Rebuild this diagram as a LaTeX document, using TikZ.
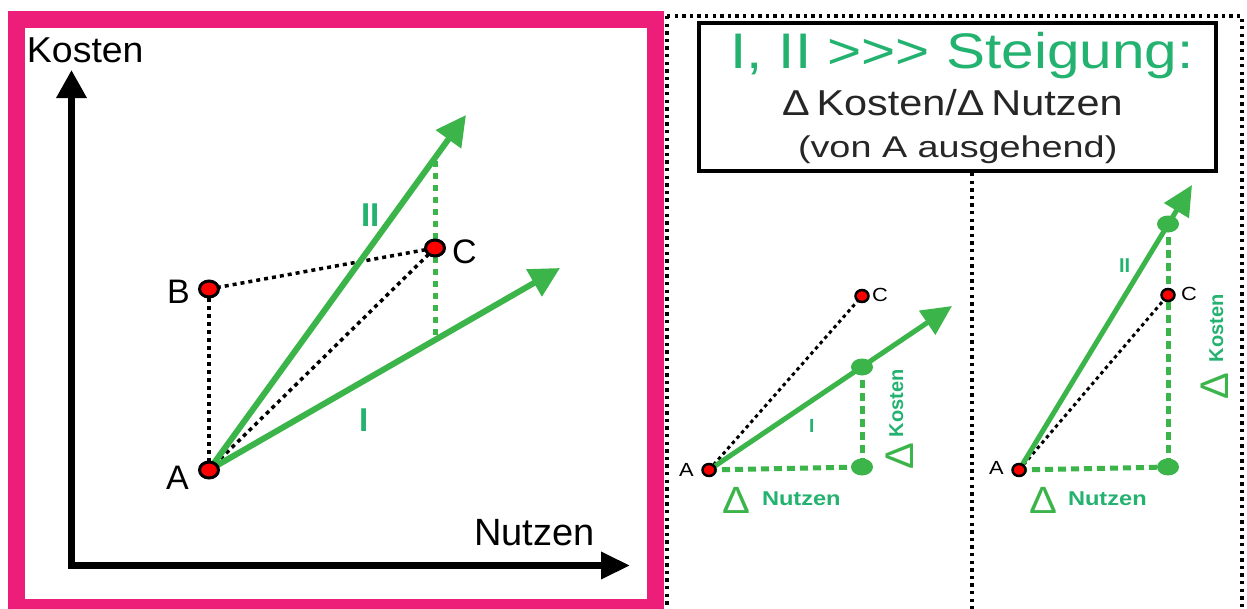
\documentclass[tikz,border=0pt]{standalone}
\usepackage{fontspec}
\setmainfont{Liberation Sans}
\usepackage{graphicx}
\usetikzlibrary{arrows.meta,calc,shapes.geometric}
\definecolor{pinkframe}{RGB}{237,30,121}
\definecolor{agreen}{RGB}{59,181,74}
\definecolor{tgreen}{RGB}{36,178,112}
\definecolor{darktext}{RGB}{38,38,38}
\newcommand{\fsz}[1]{\fontsize{#1}{#1}\selectfont}
\begin{document}
\begin{tikzpicture}[x=1pt,y=-1pt,
  lbl/.style={inner sep=0pt, outer sep=0pt, anchor=base west},
  rlbl/.style={inner sep=0pt, outer sep=0pt, anchor=base west, rotate=90},
  bigdot/.style={shape=ellipse, draw=black, fill=red, line width=3pt, minimum width=19pt, minimum height=16pt, inner sep=0pt},
  smalldot/.style={shape=ellipse, draw=black, fill=red, line width=2.5pt, minimum width=13pt, minimum height=12pt, inner sep=0pt},
  gdot/.style={shape=ellipse, fill=agreen, minimum width=22pt, minimum height=17pt, inner sep=0pt},
  bdots/.style={black, line width=3.5pt, dash pattern=on 4pt off 4pt},
  sbdots/.style={black, line width=3pt, dash pattern=on 3.5pt off 3.5pt},
  gdash/.style={agreen, line width=5pt, dash pattern=on 6pt off 6pt},
  sgdash/.style={agreen, line width=5pt, dash pattern=on 8pt off 5pt},
  garrow/.style={agreen, line width=6pt, -{Triangle[length=30pt,width=30pt]}},
  sgarrow/.style={agreen, line width=5pt, -{Triangle[length=30pt,width=28pt]}},
  frame/.style={black, line width=3.3pt, dash pattern=on 3.3pt off 4.3pt},
  axis/.style={black, line width=6.5pt, {Triangle[length=28pt,width=29pt]}-{Triangle[length=29pt,width=26pt]}}
]
\useasboundingbox (0,0) rectangle (1247,608);
\clip (0,0) rectangle (1247,608);
\fill[white] (0,0) rectangle (1247,608);

% ---------- left panel ----------
\draw[pinkframe, line width=17pt] (16.5,19) rectangle (655.5,607);

\coordinate (ytip) at (71.5,70);
\coordinate (orig) at (71.5,565.5);
\coordinate (xtip) at (630,565.5);
\draw[axis] (ytip) -- (orig) -- (xtip);

\node[lbl] (kost) at (27,62) {\fsz{36}\scalebox{1.04}[1]{Kosten}};
\node[lbl] (nutz) at (474,545) {\fsz{38}Nutzen};

\coordinate (a) at (209,470);
\coordinate (b) at (209,289);
\coordinate (c) at (435,248);
\coordinate (t2) at (466,115);
\coordinate (t1) at (560,268);
\coordinate (v1) at (435,161);
\coordinate (v2) at (435,341);

\draw[bdots] (a) -- (b);
\draw[bdots] (b) -- (c);
\draw[bdots] (a) -- (c);
\draw[gdash] (v1) -- (v2);
\draw[garrow] (a) -- (t2);
\draw[garrow] (a) -- (t1);

\node[bigdot] (A) at (a) {};
\node[bigdot] (B) at (b) {};
\node[bigdot] (C) at (c) {};

\node[lbl] (Al) at (166,489) {\fsz{34}A};
\node[lbl] (Bl) at (167,303) {\fsz{34}B};
\node[lbl] (Cl) at (452,263) {\fsz{34}C};

\node[lbl, text=tgreen] (IIl) at (361,226) {\fsz{33}\bfseries II};
\node[lbl, text=tgreen] (Il) at (359,431) {\fsz{33}\bfseries I};

% ---------- right side frame ----------
\draw[frame] (667,16) -- (1242,16) -- (1242,612);
\draw[frame] (667,16) -- (667,612);

\node[draw=black, line width=4pt, minimum width=517pt, minimum height=148pt, inner sep=0pt, anchor=north west] (titlebox) at (697,21) {};
\coordinate (sepb) at (972,612);
\draw[frame] (titlebox.south -| sepb) -- (sepb);

\node[lbl, text=tgreen] (t1l) at (730,68) {\fsz{50}\scalebox{1.17}[1]{I, II {>}{>}{>} Steigung:}};
\node[lbl, text=darktext] (t2l) at (782,115) {\fsz{36}\scalebox{1.15}[1]{Δ\hspace{6pt}Kosten/Δ\hspace{6pt}Nutzen}};
\node[lbl, text=darktext] (t3l) at (798,157) {\fsz{30}\scalebox{1.26}[1]{(von A ausgehend)}};

% ---------- panel 1 ----------
\coordinate (pa) at (709,470);
\coordinate (pc) at (862,296);
\coordinate (pt) at (952,306);
\coordinate (pu) at (862,367);
\coordinate (pl) at (862,467);

\draw[sbdots] (pa) -- (pc);
\draw[sgdash] (pa) -- (pl);
\draw[sgdash] (pu) -- (pl);
\draw[sgarrow] (pa) -- (pt);
\node[gdot] (PU) at (pu) {};
\node[gdot] (PL) at (pl) {};
\node[smalldot] (PA) at (pa) {};
\node[smalldot] (PC) at (pc) {};

\node[lbl] (PAl) at (679,476) {\fsz{19}\scalebox{1.15}[1]{A}};
\node[lbl] (PCl) at (872,301) {\fsz{19}\scalebox{1.15}[1]{C}};
\node[lbl, text=tgreen] (PIl) at (809,432) {\fsz{19}\bfseries I};

\node[lbl, text=agreen] (PdN) at (722,513) {\fsz{38}\scalebox{1.1}[1]{Δ}};
\node[lbl, text=tgreen] (PN) at (762,505) {\fsz{20}\bfseries\scalebox{1.18}[1]{Nutzen}};
\node[rlbl, text=agreen] (PdK) at (913,469) {\fsz{40}Δ};
\node[rlbl, text=tgreen] (PK) at (903,437) {\fsz{20}\bfseries Kosten};

% ---------- panel 2 ----------
\coordinate (qa) at (1019,470);
\coordinate (qc) at (1168,295);
\coordinate (qt) at (1192,185);
\coordinate (qu) at (1168,224);
\coordinate (ql) at (1168,467);

\draw[sbdots] (qa) -- (qc);
\draw[sgdash] (qa) -- (ql);
\draw[sgdash] (qu) -- (ql);
\draw[sgarrow] (qa) -- (qt);
\node[gdot] (QU) at (qu) {};
\node[gdot] (QL) at (ql) {};
\node[smalldot] (QA) at (qa) {};
\node[smalldot] (QC) at (qc) {};

\node[lbl] (QAl) at (989,474) {\fsz{19}\scalebox{1.15}[1]{A}};
\node[lbl] (QCl) at (1181,300) {\fsz{19}\scalebox{1.15}[1]{C}};
\node[lbl, text=tgreen] (QIIl) at (1119,272) {\fsz{20}\bfseries II};

\node[lbl, text=agreen] (QdN) at (1029,513) {\fsz{38}\scalebox{1.1}[1]{Δ}};
\node[lbl, text=tgreen] (QN) at (1068,505) {\fsz{20}\bfseries\scalebox{1.18}[1]{Nutzen}};
\node[rlbl, text=agreen] (QdK) at (1228,399) {\fsz{40}Δ};
\node[rlbl, text=tgreen] (QK) at (1223,362) {\fsz{20}\bfseries Kosten};
\end{tikzpicture}
\end{document}
